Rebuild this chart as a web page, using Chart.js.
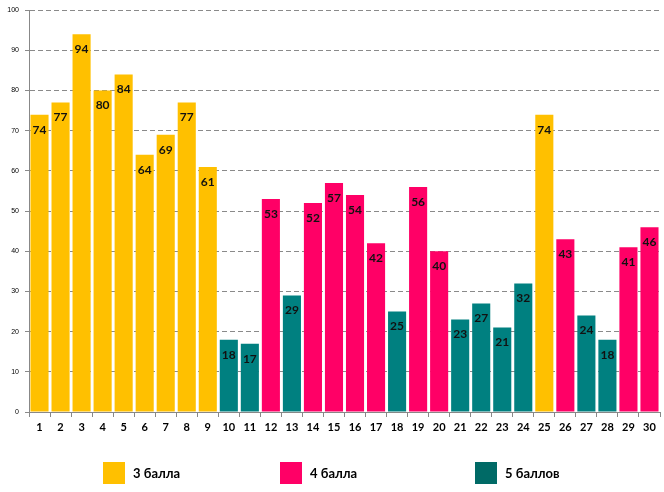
<!DOCTYPE html>
<html><head><meta charset="utf-8">
<script src="https://cdn.jsdelivr.net/npm/chart.js@4.4.1/dist/chart.umd.min.js"></script>
<style>html,body{margin:0;padding:0;background:#fff}#wrap{width:664px;height:492px;position:relative}</style>
</head><body><div id="wrap"><canvas id="c" width="664" height="492"></canvas></div>
<script>
const categories = ["1","2","3","4","5","6","7","8","9","10","11","12","13","14","15","16","17","18","19","20","21","22","23","24","25","26","27","28","29","30"];
const values = [74,77,94,80,84,64,69,77,61,18,17,53,29,52,57,54,42,25,56,40,23,27,21,32,74,43,24,18,41,46];
const grades = [3,3,3,3,3,3,3,3,3,5,5,4,5,4,4,4,4,5,4,4,5,5,5,5,3,4,5,5,4,4];
const seriesNames = ["3 балла","4 балла","5 баллов"];
const seriesGrades = [3,4,5];
const yTicks = [0,10,20,30,40,50,60,70,80,90,100];

const barColors = ["#FFC000","#FF0066","#008080"];
const legendColors = ["#FFC000","#FF0066","#006A66"];

const datasets = seriesGrades.map((g,i)=>({
  label: seriesNames[i],
  data: values.map((v,j)=> grades[j]===g ? v : null),
  backgroundColor: barColors[i],
  borderWidth: 0,
  grouped: false,
  categoryPercentage: 1,
  barPercentage: 0.86
}));

const labelPlugin = {
  id:'barLabels',
  afterDatasetsDraw(chart){
    const ctx = chart.ctx;
    ctx.save();
    ctx.font = "bold 12px Lato, 'Open Sans', sans-serif";
    ctx.fillStyle = "#111";
    ctx.textAlign = "center";
    ctx.textBaseline = "middle";
    chart.data.datasets.forEach((ds,di)=>{
      const meta = chart.getDatasetMeta(di);
      meta.data.forEach((bar,j)=>{
        const v = ds.data[j];
        if (v===null || v===undefined) return;
        ctx.fillText(String(v), bar.x, bar.y + 15);
      });
    });
    ctx.restore();
  }
};

const legendPlugin = {
  id:'customLegend',
  afterDraw(chart){
    const ctx = chart.ctx;
    const xs = [103,280,475];
    ctx.save();
    ctx.font = "bold 13px Lato, 'Open Sans', sans-serif";
    ctx.textBaseline = "middle";
    ctx.textAlign = "left";
    chart.data.datasets.forEach((ds,i)=>{
      ctx.fillStyle = legendColors[i];
      ctx.fillRect(xs[i], 462, 22, 22);
      ctx.fillStyle = "#000";
      ctx.fillText(ds.label, xs[i]+30, 474);
    });
    ctx.restore();
  }
};

new Chart(document.getElementById('c'), {
  type:'bar',
  data:{ labels: categories, datasets },
  options:{
    responsive:false,
    animation:false,
    layout:{ padding:{ top:9, right:4, bottom:50, left:0 } },
    plugins:{ legend:{display:false}, tooltip:{enabled:false} },
    scales:{
      x:{
        offset:true,
        grid:{ display:true, drawOnChartArea:false, drawTicks:true, tickLength:5, offset:true, color:'#888' },
        border:{ color:'#888', width:1 },
        ticks:{ font:{ family:"Lato, 'Open Sans', sans-serif", size:11, weight:'bold' }, color:'#000', padding:4, autoSkip:false, maxRotation:0 },
        afterFit(s){ s.height = 30; }
      },
      y:{
        min:0, max:100,
        afterBuildTicks(s){ s.ticks = yTicks.map(v=>({value:v})); },
        grid:{ color:'#8a8a8a', tickLength:4, lineWidth:1 },
        border:{ color:'#888', width:1, dash:[5,3] },
        ticks:{ font:{ family:"'Liberation Sans', Arial, sans-serif", size:7 }, color:'#000', padding:6 },
        afterFit(s){ s.width = 29; }
      }
    }
  },
  plugins:[labelPlugin, legendPlugin]
});
</script></body></html>
